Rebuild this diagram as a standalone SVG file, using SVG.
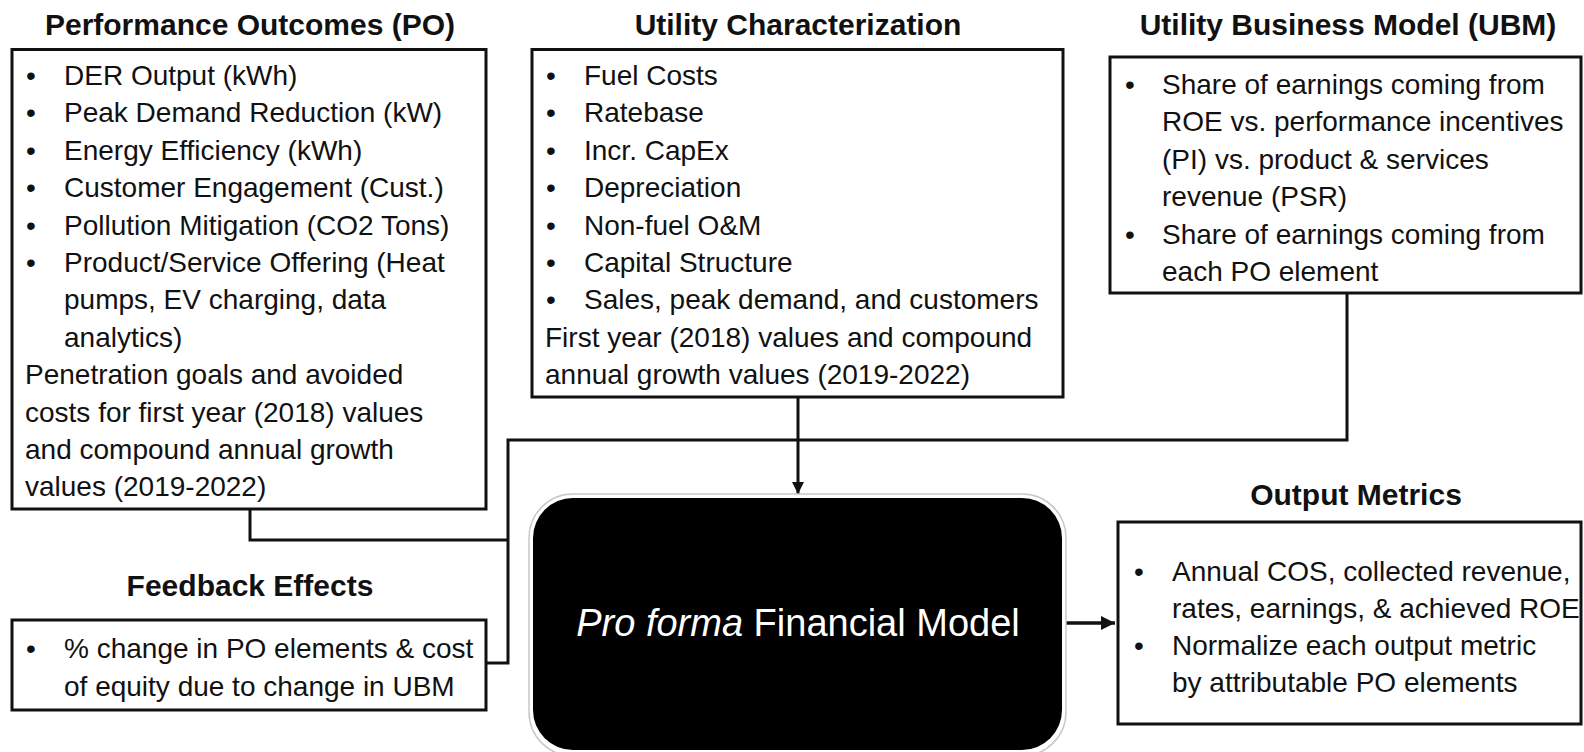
<svg xmlns="http://www.w3.org/2000/svg" width="1584" height="752" viewBox="0 0 1584 752">
<style>
.box{fill:#fff;stroke:#111;stroke-width:3}
.title{font-family:"Liberation Sans",Arial,sans-serif;font-weight:bold;font-size:30px;fill:#111;text-anchor:middle}
.t{font-family:"Liberation Sans",Arial,sans-serif;font-size:28px;fill:#111}
.conn{fill:none;stroke:#111;stroke-width:3}
.big{font-family:"Liberation Sans",Arial,sans-serif;font-size:38px;fill:#fff;text-anchor:middle}
</style>
<defs>
<marker id="ah" viewBox="0 0 10 10" refX="10" refY="5" markerWidth="4" markerHeight="4" orient="auto" markerUnits="strokeWidth">
<path d="M0,0 L10,5 L0,10 z" fill="#111"/>
</marker>
</defs>
<rect width="1584" height="752" fill="#fff"/>

<g id="connectors">
<polyline class="conn" points="1347,293 1347,440 508,440 508,663 486,663"/>
<polyline class="conn" points="250,509 250,540 508,540"/>
<line class="conn" x1="798" y1="397" x2="798" y2="494" marker-end="url(#ah)"/>
<line class="conn" x1="1064" y1="623" x2="1115" y2="623" style="stroke-width:3.5" marker-end="url(#ah)"/>
</g>

<g id="po">
<text class="title" x="250" y="35">Performance Outcomes (PO)</text>
<rect class="box" x="12" y="49.5" width="474" height="459.5"/>
<g class="t">
<text x="26" y="85">•</text><text x="64" y="85">DER Output (kWh)</text>
<text x="26" y="122.4">•</text><text x="64" y="122.4">Peak Demand Reduction (kW)</text>
<text x="26" y="159.8">•</text><text x="64" y="159.8">Energy Efficiency (kWh)</text>
<text x="26" y="197.2">•</text><text x="64" y="197.2">Customer Engagement (Cust.)</text>
<text x="26" y="234.6">•</text><text x="64" y="234.6">Pollution Mitigation (CO2 Tons)</text>
<text x="26" y="272">•</text><text x="64" y="272">Product/Service Offering (Heat</text>
<text x="64" y="309.4">pumps, EV charging, data</text>
<text x="64" y="346.8">analytics)</text>
<text x="25" y="384.2">Penetration goals and avoided</text>
<text x="25" y="421.6">costs for first year (2018) values</text>
<text x="25" y="459">and compound annual growth</text>
<text x="25" y="496.4">values (2019-2022)</text>
</g>
</g>

<g id="uc">
<text class="title" x="798" y="35">Utility Characterization</text>
<rect class="box" x="532" y="49.5" width="531" height="347.5"/>
<g class="t">
<text x="546" y="85">•</text><text x="584" y="85">Fuel Costs</text>
<text x="546" y="122.4">•</text><text x="584" y="122.4">Ratebase</text>
<text x="546" y="159.8">•</text><text x="584" y="159.8">Incr. CapEx</text>
<text x="546" y="197.2">•</text><text x="584" y="197.2">Depreciation</text>
<text x="546" y="234.6">•</text><text x="584" y="234.6">Non-fuel O&amp;M</text>
<text x="546" y="272">•</text><text x="584" y="272">Capital Structure</text>
<text x="546" y="309.4">•</text><text x="584" y="309.4">Sales, peak demand, and customers</text>
<text x="545" y="346.8">First year (2018) values and compound</text>
<text x="545" y="384.2">annual growth values (2019-2022)</text>
</g>
</g>

<g id="ubm">
<text class="title" x="1348" y="35">Utility Business Model (UBM)</text>
<rect class="box" x="1110" y="57" width="471" height="236"/>
<g class="t">
<text x="1125" y="94">•</text><text x="1162" y="94">Share of earnings coming from</text>
<text x="1162" y="131.4">ROE vs. performance incentives</text>
<text x="1162" y="168.8">(PI) vs. product &amp; services</text>
<text x="1162" y="206.2">revenue (PSR)</text>
<text x="1125" y="243.6">•</text><text x="1162" y="243.6">Share of earnings coming from</text>
<text x="1162" y="281">each PO element</text>
</g>
</g>

<g id="feedback">
<text class="title" x="250" y="596">Feedback Effects</text>
<rect class="box" x="12" y="620" width="474" height="90"/>
<g class="t">
<text x="26" y="658">•</text><text x="64" y="658">% change in PO elements &amp; cost</text>
<text x="64" y="696">of equity due to change in UBM</text>
</g>
</g>

<g id="model">
<rect x="529" y="494" width="537" height="262" rx="44" fill="#fff" stroke="#c8c8c8" stroke-width="1.5"/>
<rect x="533" y="498" width="529" height="252" rx="40" fill="#000"/>
<text class="big" x="798" y="636"><tspan font-style="italic">Pro forma</tspan> Financial Model</text>
</g>

<g id="output">
<text class="title" x="1356" y="505">Output Metrics</text>
<rect class="box" x="1118" y="522" width="463" height="202"/>
<g class="t">
<text x="1134" y="581">•</text><text x="1172" y="581">Annual COS, collected revenue,</text>
<text x="1172" y="618">rates, earnings, &amp; achieved ROE</text>
<text x="1134" y="655">•</text><text x="1172" y="655">Normalize each output metric</text>
<text x="1172" y="692">by attributable PO elements</text>
</g>
</g>
</svg>
